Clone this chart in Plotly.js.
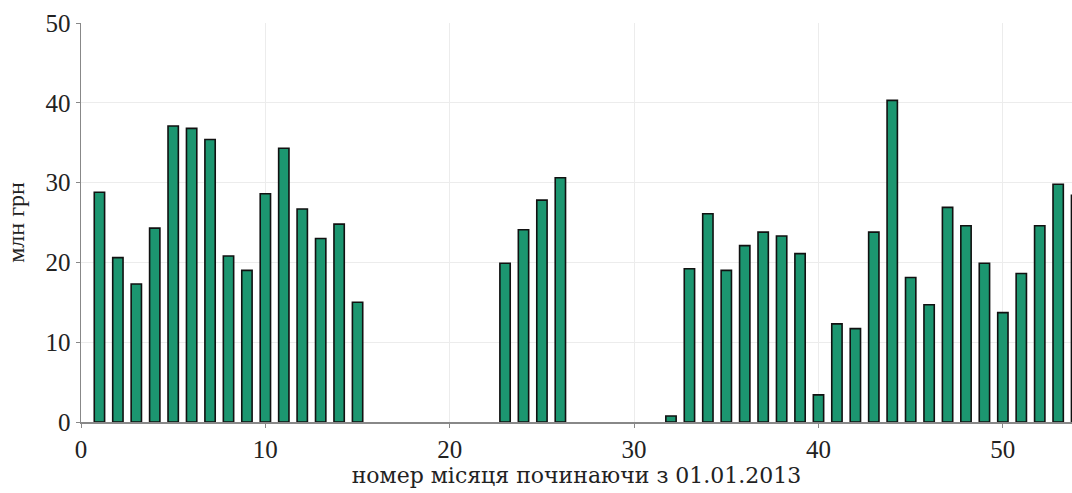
<!DOCTYPE html>
<html>
<head>
<meta charset="utf-8">
<script src="https://cdn.plot.ly/plotly-3.0.1.min.js"></script>
<style>html,body{margin:0;padding:0;background:#fff;}#chart{width:1072px;height:493px;}</style>
</head>
<body>
<div id="chart"></div>
<script>
const months = [1,2,3,4,5,6,7,8,9,10,11,12,13,14,15,
                23,24,25,26,
                32,33,34,35,36,37,38,39,40,41,42,43,44,45,46,47,48,49,50,51,52,53,54];
const values = [28.8,20.6,17.3,24.3,37.1,36.8,35.4,20.8,19.0,28.6,34.3,26.7,23.0,24.8,15.0,
                19.9,24.1,27.8,30.6,
                0.75,19.2,26.1,19.0,22.1,23.8,23.3,21.1,3.4,12.3,11.7,23.8,40.3,18.1,14.7,26.9,24.6,19.9,13.7,18.6,24.6,29.8,28.4];
const xTicks = [0,10,20,30,40,50];
const yTicks = [0,10,20,30,40,50];
const xTitle = 'номер місяця починаючи з 01.01.2013';
const yTitle = 'млн грн';

const font = 'Liberation Serif, DejaVu Serif, serif';
const titleFont = 'DejaVu Serif, Liberation Serif, serif';
Plotly.newPlot('chart', [{
  type: 'bar',
  x: months,
  y: values,
  width: 0.56,
  marker: {color: '#1c9670', line: {color: '#111', width: 1.6}},
  hoverinfo: 'x+y'
}], {
  width: 1072, height: 493,
  margin: {l: 81, r: 0, t: 23, b: 71, pad: 0},
  paper_bgcolor: '#fff', plot_bgcolor: '#fff',
  showlegend: false,
  font: {family: font, color: '#222', size: 22},
  xaxis: {
    range: [0, 53.75], tickvals: xTicks, ticktext: xTicks.map(String),
    showgrid: true, gridcolor: '#ececec', gridwidth: 1,
    zeroline: false, showline: true, linecolor: '#888', linewidth: 1.5,
    ticks: 'outside', ticklen: 4, tickcolor: '#888',
    tickfont: {family: font, size: 25, color: '#222'},
    title: {text: xTitle, font: {family: titleFont, size: 22, color: '#222'}, standoff: 6}
  },
  yaxis: {
    range: [0, 50], tickvals: yTicks, ticktext: yTicks.map(String),
    showgrid: true, gridcolor: '#ececec', gridwidth: 1,
    zeroline: false, showline: true, linecolor: '#888', linewidth: 1.5,
    ticks: 'outside', ticklen: 4, tickcolor: '#888',
    tickfont: {family: font, size: 25, color: '#222'},
    title: {text: yTitle, font: {family: font, size: 24, color: '#222'}, standoff: 14}
  }
}, {displayModeBar: false, staticPlot: true});
</script>
</body>
</html>
